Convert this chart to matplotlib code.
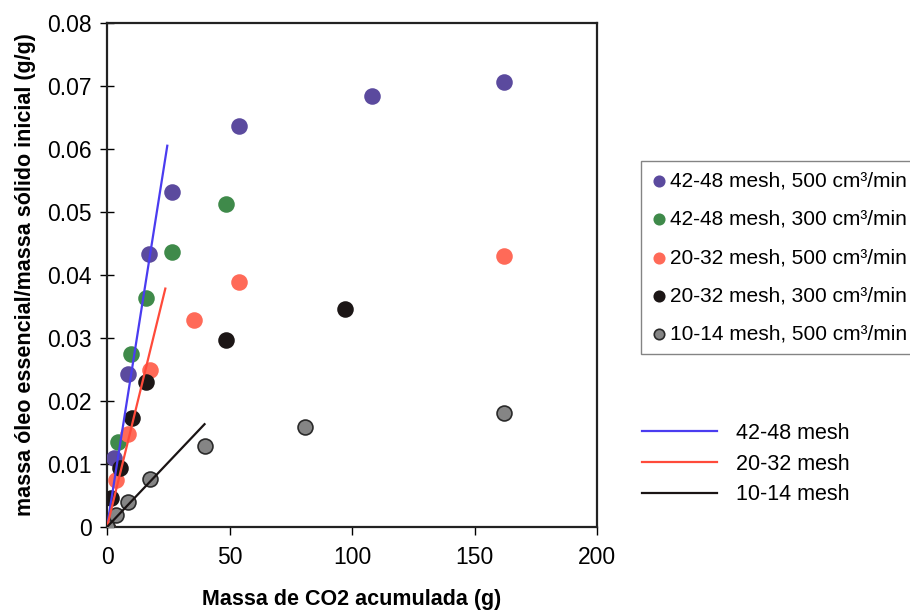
import matplotlib.pyplot as plt
import numpy as np

plt.rcParams['font.family'] = ['Liberation Sans', 'DejaVu Sans']

# Dados
x_4248_500 = [0, 2.9, 8.6, 17.2, 26.6, 54, 108, 162]
y_4248_500 = [0, 0.0110, 0.0243, 0.0433, 0.0532, 0.0637, 0.0684, 0.0706]

x_4248_300 = [0, 4.5, 9.8, 16, 26.6, 48.4]
y_4248_300 = [0, 0.0135, 0.0275, 0.0364, 0.0437, 0.0513]

x_2032_500 = [0, 3.7, 8.6, 17.6, 35.7, 54, 162]
y_2032_500 = [0, 0.0075, 0.0148, 0.0249, 0.0329, 0.0389, 0.0430]

x_2032_300 = [0, 1.6, 5.3, 10.2, 16, 48.4, 97]
y_2032_300 = [0, 0.0046, 0.0094, 0.0173, 0.0230, 0.0297, 0.0346]

x_1014_500 = [0, 3.7, 8.6, 17.6, 40, 80.7, 162]
y_1014_500 = [0, 0.0019, 0.0040, 0.0076, 0.0129, 0.0159, 0.0181]

# Retas ajustadas (x final, inclinacao)
fit_labels = ['42-48 mesh', '20-32 mesh', '10-14 mesh']
fit_xmax = [24.6, 23.8, 39.8]
fit_slope = [0.00246, 0.00159, 0.00041]
fit_colors = ['#4a3cf0', '#ff4a3a', '#1a1414']

series = [
    (x_4248_500, y_4248_500, '#5b4a9e', '42-48 mesh, 500 cm³/min'),
    (x_4248_300, y_4248_300, '#3f8a4a', '42-48 mesh, 300 cm³/min'),
    (x_2032_500, y_2032_500, '#ff6a58', '20-32 mesh, 500 cm³/min'),
    (x_2032_300, y_2032_300, '#1c1616', '20-32 mesh, 300 cm³/min'),
    (x_1014_500, y_1014_500, '#858585', '10-14 mesh, 500 cm³/min'),
]

fig = plt.figure(figsize=(9.1, 6.11), dpi=100)
ax = fig.add_axes([0.1176, 0.1375, 0.5385, 0.8249])

pts = []
for xs, ys, c, lab in series:
    ec = '#2a2a2a' if c == '#858585' else c
    h = ax.scatter(xs, ys, s=115, color=c, edgecolors=ec, linewidths=1.2,
                   zorder=3, label=lab)
    pts.append(h)

lines = []
for xm, m, c, lab in zip(fit_xmax, fit_slope, fit_colors, fit_labels):
    xx = np.array([0, xm])
    ln, = ax.plot(xx, m * xx, color=c, lw=1.6, zorder=4, label=lab)
    lines.append(ln)

ax.set_xlim(0, 200)
ax.set_ylim(0, 0.08)
ax.set_xticks([0, 50, 100, 150, 200])
ax.set_yticks(np.arange(0, 0.081, 0.01))
ax.set_yticklabels(['0', '0.01', '0.02', '0.03', '0.04', '0.05', '0.06', '0.07', '0.08'])
ax.tick_params(axis='y', direction='inout', length=10, width=1, labelsize=16.5, pad=6)
ax.tick_params(axis='x', direction='out', length=6, width=1, labelsize=16.5, pad=8)
for sp in ax.spines.values():
    sp.set_linewidth(1.6)
    sp.set_color('#222222')

ax.set_xlabel('Massa de CO2 acumulada (g)', fontsize=15.5, fontweight='bold', labelpad=14)
ax.set_ylabel('massa óleo essencial/massa sólido inicial (g/g)', fontsize=15.5,
              fontweight='bold', labelpad=8)

# Legenda dos pontos (a caixa passa da borda direita, como no original)
leg1 = ax.legend(handles=pts, loc='upper left', bbox_to_anchor=(641 / 910, 1 - 161 / 611),
                 bbox_transform=fig.transFigure, fontsize=15, frameon=True, fancybox=False,
                 handletextpad=0.2, handlelength=0.7, labelspacing=0.93, borderpad=0.5,
                 markerscale=0.7, borderaxespad=0)
leg1.get_frame().set_edgecolor('#666666')
leg1.get_frame().set_linewidth(1.0)
ax.add_artist(leg1)

# Legenda das retas
leg2 = ax.legend(handles=lines, loc='upper left', bbox_to_anchor=(642 / 910, 1 - 423 / 611),
                 bbox_transform=fig.transFigure, fontsize=15.5, frameon=False,
                 handlelength=3.5, handletextpad=0.85, labelspacing=0.45, borderaxespad=0,
                 borderpad=0)

fig.savefig('out.png', dpi=100)
